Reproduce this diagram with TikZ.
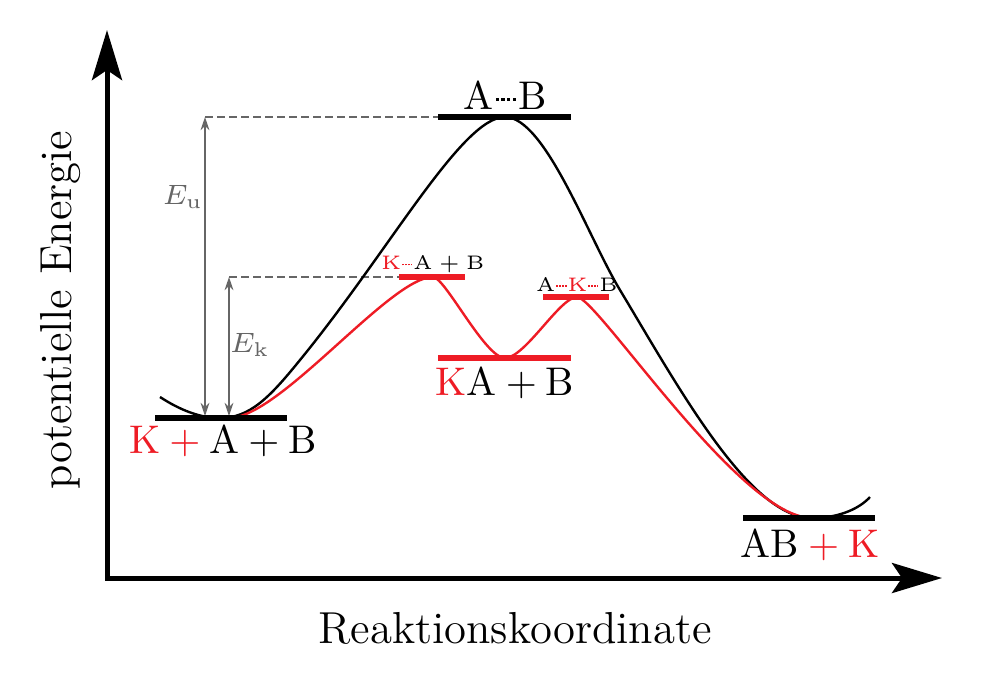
\documentclass[tikz,border=0pt]{standalone}
\usetikzlibrary{arrows.meta}
\definecolor{kred}{HTML}{EE1C25}
\definecolor{kgray}{HTML}{666666}
\newcommand{\hbdot}{\rule[0.21em]{0.08em}{0.08em}}
\newcommand{\hbd}{\kern0.05em\hbdot\kern0.065em\hbdot\kern0.065em\hbdot\kern0.065em\hbdot\kern0.05em}
\newcommand{\pl}{${}+{}$}
\begin{document}
\begin{tikzpicture}[x=0.25pt,y=-0.25pt,
  axis/.style={line width=1.25pt,line join=miter,{Stealth[length=12.5pt,width=7.5pt,inset=2.5pt]}-{Stealth[length=12.5pt,width=7.5pt,inset=2.5pt]}},
  bbar/.style={line width=1.5pt,black},
  rbar/.style={line width=1.4pt,kred},
  bcurve/.style={line width=0.6pt,black},
  rcurve/.style={line width=0.6pt,kred},
  guide/.style={line width=0.4pt,kgray,dash pattern=on 2pt off 1pt},
  garrow/.style={line width=0.4pt,kgray,{Stealth[length=3.3pt,width=2.2pt]}-{Stealth[length=3.3pt,width=2.2pt]}},
  lab/.style={inner sep=0pt,font=\fontsize{10}{12}\selectfont},
  slab/.style={inner sep=0pt,font=\fontsize{4.9}{6}\selectfont},
  glab/.style={inner sep=0pt,text=kgray,font=\fontsize{7}{8}\selectfont},
  axlab/.style={inner sep=0pt,font=\fontsize{11.2}{13}\selectfont}]
\useasboundingbox (0,0) rectangle (998,690);
% coordinates
\coordinate (ytip) at (107,30);
\coordinate (orig) at (107,578);
\coordinate (xtip) at (942,578);
\coordinate (bs) at (160,397);
\coordinate (m1) at (220,418);
\coordinate (bl) at (300,360);
\coordinate (ts) at (505,117);
\coordinate (br) at (620,290);
\coordinate (m2) at (812,518);
\coordinate (be) at (870,497);
\coordinate (rs) at (229,418);
\coordinate (p1) at (433,277);
\coordinate (mi) at (505,358);
\coordinate (p2) at (577,297);
\coordinate (eut) at (205,117);
\coordinate (eub) at (205,416);
\coordinate (ekt) at (229,277);
\coordinate (ekb) at (229,416);
\coordinate (tsl) at (438,117);
\coordinate (p1l) at (399,277);
% axes
\draw[axis] (ytip) -- (orig) -- (xtip);
\node[axlab,rotate=90] (ylab) at (61,310) {potentielle Energie};
\node[axlab] (xlab) at (515,628) {Reaktionskoordinate};
% guides
\draw[guide] (eut) -- (tsl);
\draw[guide] (ekt) -- (p1l);
\draw[garrow] (eut) -- (eub);
\draw[garrow] (ekt) -- (ekb);
\node[glab] (eu) at (183,197) {$E_{\mathrm{u}}$};
\node[glab] (ek) at (250,345) {$E_{\mathrm{k}}$};
% curves
\draw[bcurve] (bs) .. controls (180,410) and (200,418) .. (m1)
  .. controls (250,418) and (270,397) .. (bl)
  .. controls (390,250) and (462,117) .. (ts)
  .. controls (545,117) and (588,237) .. (br)
  .. controls (680,390) and (750,518) .. (m2)
  .. controls (840,518) and (860,508) .. (be);
\draw[rcurve] (rs) .. controls (280,418) and (390,277) .. (p1)
  .. controls (445,277) and (485,358) .. (mi)
  .. controls (525,358) and (560,297) .. (p2)
  .. controls (597,297) and (740,518) .. (m2);
% bars
\draw[bbar] (155,418) coordinate (l1a) -- (287,418) coordinate (l1b);
\draw[bbar] (438,117) coordinate (l2a) -- (571,117) coordinate (l2b);
\draw[bbar] (743,518) coordinate (l3a) -- (875,518) coordinate (l3b);
\draw[rbar] (399,277) coordinate (r1a) -- (465,277) coordinate (r1b);
\draw[rbar] (438,358) coordinate (r2a) -- (571,358) coordinate (r2b);
\draw[rbar] (543,297) coordinate (r3a) -- (609,297) coordinate (r3b);
% labels
\node[lab] (lreac) at (223,441) {{\color{kred}K\pl}A\pl B};
\node[lab] (lts) at (505,95) {A\hbd B};
\node[lab] (lint) at (505,383) {{\color{kred}K}A\pl B};
\node[lab] (lprod) at (810,545) {AB{\color{kred}\pl K}};
\node[slab] (lts1) at (433,264) {{\color{kred}K\hbd}A\pl B};
\node[slab] (lts2) at (577,284) {A{\color{kred}\hbd K\hbd}B};
\end{tikzpicture}
\end{document}
